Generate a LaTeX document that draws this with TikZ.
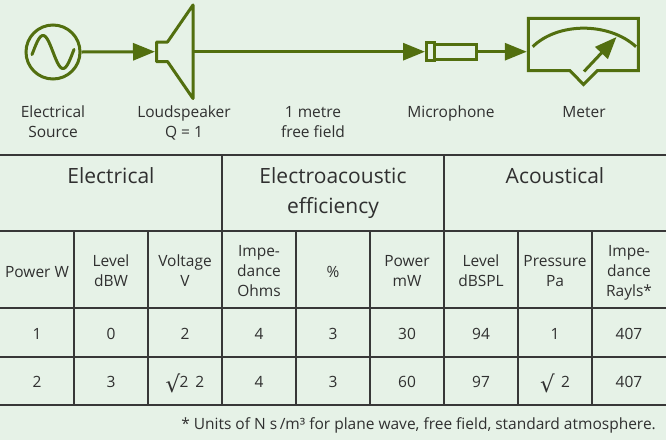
\documentclass[tikz,border=0pt]{standalone}
\usepackage{fontspec}
\setmainfont{Open Sans}
\newfontfamily\dejavu{DejaVu Sans}
\usetikzlibrary{arrows.meta}
\definecolor{bgc}{HTML}{E6F2E7}
\definecolor{leaf}{HTML}{526F0F}
\definecolor{txt}{HTML}{303030}
\definecolor{rulec}{HTML}{383838}
\newcommand{\rad}{\raisebox{-4.5pt}{\dejavu\fontsize{23}{23}\selectfont √}}
\begin{document}
\begin{tikzpicture}[x=1pt,y=-1pt,
  wire/.style={draw=leaf, line width=3pt},
  arr/.style={wire, -{Triangle[length=22pt,width=17pt]}},
  part/.style={draw=leaf, line width=3pt, inner sep=0pt, outer sep=0pt},
  lbl/.style={text=txt, font=\fontsize{15.5}{20}\selectfont, align=center, anchor=base, inner sep=0pt},
  cell/.style={text=txt, font=\fontsize{15.5}{20}\selectfont, align=center, anchor=base, inner sep=0pt},
  head/.style={text=txt, font=\fontsize{21}{30}\selectfont, align=center, anchor=base, inner sep=0pt},
  rule/.style={draw=rulec, line width=1.4pt}]
\useasboundingbox (0,0) rectangle (666,440);
\fill[bgc] (0,0) rectangle (666,440);

% ---- source
\node[part, circle, minimum size=54pt, outer sep=1.5pt] (src) at (53,52) {};
\draw[leaf, line width=3pt, line cap=round] plot[domain=32:74, samples=60, smooth] (\x, {52+16.5*sin((\x-53)*9)});

% ---- loudspeaker
\draw[part, line join=round] (156.5,42) -- (167.5,42) -- (193,5) -- (193,98.5) -- (167.5,61.5) -- (156.5,61.5) -- cycle;
\coordinate (spkin) at (155,51.7);
\coordinate (spkout) at (193,51.7);

% ---- microphone
\node[part, minimum width=8pt, minimum height=17.5pt, outer sep=1.5pt] (micA) at (430.5,51.7) {};
\node[part, minimum width=42pt, minimum height=15pt, anchor=west, outer sep=0pt] (micB) at (434.5,51.7) {};
\coordinate (micout) at (477.7,51.7);

% ---- meter
\draw[part, line join=miter] (570,70.7) -- (528.3,70.7) -- (528.3,18.3) -- (638.3,18.3) -- (638.3,70.7) -- (597.3,70.7) -- (583.5,84.5) -- cycle;
\draw[wire] (532.7,46.7) .. controls (558,22) and (609,22) .. (636,46.7);
\coordinate (meterin) at (526.8,51.7);
\coordinate (needlebase) at (584,71.5);
\coordinate (needletip) at (616.5,37);

% ---- connectors
\draw[arr] (src.east) -- (spkin);
\draw[arr] (spkout) -- (micA.west);
\draw[arr] (micout) -- (meterin);
\draw[arr] (needlebase) -- (needletip);

% ---- labels
\node[lbl] (lsrc) at (53,137) {Electrical\\Source};
\node[lbl] (lspk) at (184,137) {Loudspeaker\\Q = 1};
\node[lbl] (lair) at (313,137) {1 metre\\free field};
\node[lbl] (lmic) at (451,117) {Microphone};
\node[lbl] (lmet) at (584,117) {Meter};

% ---- table rules
\draw[rule] (0,155) -- (666,155);
\draw[rule] (0,231) -- (666,231);
\draw[rule] (0,308) -- (666,308);
\draw[rule] (0,357) -- (666,357);
\draw[rule] (0,405) -- (666,405);
\foreach \xx in {222,444} \draw[rule] (\xx,155) -- (\xx,405);
\foreach \xx in {74,148,296,370,518,592} \draw[rule] (\xx,231) -- (\xx,405);

% ---- headers
\node[head] (hE) at (111,183) {Electrical};
\node[head] (hEA) at (333,213) {Electroacoustic\\efficiency};
\node[head] (hA) at (555,183) {Acoustical};

% ---- sub headers
\node[cell] (s1) at (37,277.5) {Power W};
\node[cell] (s2) at (111,286.5) {Level\\dBW};
\node[cell] (s3) at (185,286.5) {Voltage\\V};
\node[cell] (s4) at (259,296.5) {Impe-\\dance\\Ohms};
\node[cell] (s5) at (333,277.5) {\%};
\node[cell] (s6) at (407,286.5) {Power\\mW};
\node[cell] (s7) at (481,286.5) {Level\\dBSPL};
\node[cell] (s8) at (555,286.5) {Pressure\\Pa};
\node[cell] (s9) at (629,296.5) {Impe-\\dance\\Rayls*};

% ---- row 1
\node[cell] (a1) at (37,339.5) {1};
\node[cell] (a2) at (111,339.5) {0};
\node[cell] (a3) at (185,339.5) {2};
\node[cell] (a4) at (259,339.5) {4};
\node[cell] (a5) at (333,339.5) {3};
\node[cell] (a6) at (407,339.5) {30};
\node[cell] (a7) at (481,339.5) {94};
\node[cell] (a8) at (555,339.5) {1};
\node[cell] (a9) at (629,339.5) {407};

% ---- row 2
\node[cell] (b1) at (37,387.5) {2};
\node[cell] (b2) at (111,387.5) {3};
\node[cell] (b3) at (185,387.5) {\rad\hspace{-0.05em}2\hspace{0.45em}2};
\node[cell] (b4) at (259,387.5) {4};
\node[cell] (b5) at (333,387.5) {3};
\node[cell] (b6) at (407,387.5) {60};
\node[cell] (b7) at (481,387.5) {97};
\node[cell] (b8) at (555,387.5) {\rad\hspace{0.4em}2};
\node[cell] (b9) at (629,387.5) {407};

% ---- footnote
\node[cell, anchor=base east] (fn) at (656,429.5) {* Units of N s\,/m³ for plane wave, free field, standard atmosphere.};
\end{tikzpicture}
\end{document}
